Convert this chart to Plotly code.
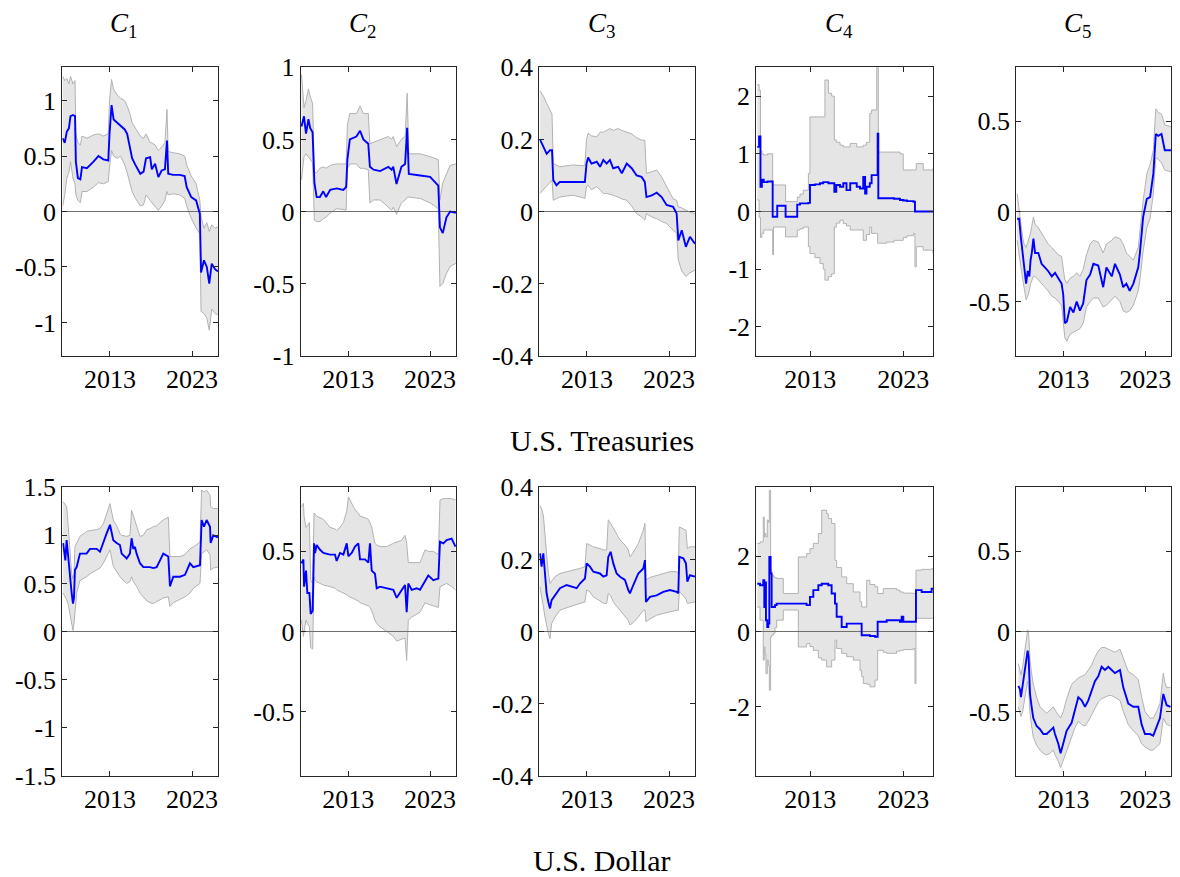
import plotly.graph_objects as go

# ---------------- data (year, median, upper band, lower band) ----------------
X_RANGE = [2007.2, 2026.2]
X_TICKS = [2013, 2023]
X_TICK_TEXT = ["2013", "2023"]

COL_TITLES = ["<i>C</i><sub>1</sub>", "<i>C</i><sub>2</sub>", "<i>C</i><sub>3</sub>",
              "<i>C</i><sub>4</sub>", "<i>C</i><sub>5</sub>"]
ROW_TITLES = ["U.S. Treasuries", "U.S. Dollar"]

C1 = [(2007.25, 0.66, 1.22, 0.05), (2007.5, 0.62, 1.18, 0.15), (2007.75, 0.72, 1.20, 0.30),
      (2008.0, 0.75, 1.15, 0.35), (2008.2, 0.86, 1.22, 0.45), (2008.5, 0.87, 1.15, 0.30),
      (2008.75, 0.86, 1.18, 0.25), (2008.85, 0.45, 0.70, 0.15), (2009.1, 0.30, 0.62, 0.10),
      (2009.4, 0.29, 0.60, 0.08), (2009.6, 0.40, 0.68, 0.18), (2010.2, 0.39, 0.66, 0.18),
      (2011.0, 0.45, 0.69, 0.22), (2011.6, 0.50, 0.70, 0.26), (2012.2, 0.47, 0.68, 0.25),
      (2012.8, 0.46, 0.70, 0.27), (2012.95, 0.70, 1.00, 0.40), (2013.2, 0.96, 1.19, 0.55),
      (2013.45, 0.83, 1.10, 0.50), (2013.9, 0.80, 1.05, 0.48), (2014.3, 0.77, 1.02, 0.50),
      (2014.8, 0.74, 1.00, 0.42), (2015.1, 0.70, 0.95, 0.35), (2015.45, 0.58, 0.88, 0.25),
      (2015.7, 0.48, 0.80, 0.18), (2016.1, 0.42, 0.75, 0.12), (2016.7, 0.34, 0.68, 0.05),
      (2017.1, 0.36, 0.66, 0.06), (2017.4, 0.48, 0.70, 0.15), (2017.9, 0.49, 0.62, 0.10),
      (2018.1, 0.38, 0.62, 0.08), (2018.5, 0.43, 0.60, 0.05), (2018.9, 0.31, 0.55, 0.01),
      (2019.3, 0.37, 0.58, 0.05), (2019.7, 0.38, 0.62, 0.10), (2019.95, 0.64, 0.92, 0.18),
      (2020.1, 0.34, 0.54, 0.15), (2020.7, 0.33, 0.53, 0.16), (2021.5, 0.33, 0.52, 0.15),
      (2022.1, 0.32, 0.50, 0.12), (2022.35, 0.22, 0.42, 0.05), (2022.9, 0.13, 0.32, -0.06),
      (2023.5, 0.10, 0.25, -0.15), (2023.95, -0.02, 0.10, -0.20), (2024.1, -0.55, -0.05, -0.90),
      (2024.45, -0.44, -0.15, -0.92), (2024.8, -0.50, -0.10, -0.96), (2025.1, -0.65, -0.18, -1.07),
      (2025.4, -0.47, -0.12, -0.88), (2025.8, -0.52, -0.15, -0.92), (2026.15, -0.54, -0.14, -0.93)]

C2 = [(2007.3, 0.59, 0.95, 0.22), (2007.6, 0.66, 0.72, 0.38), (2007.85, 0.54, 0.77, 0.40),
      (2008.15, 0.64, 0.85, 0.38), (2008.35, 0.58, 0.80, 0.36), (2008.65, 0.55, 0.75, 0.34),
      (2008.87, 0.20, 0.27, -0.06), (2009.15, 0.10, 0.27, -0.07), (2009.55, 0.10, 0.30, -0.07),
      (2009.95, 0.14, 0.31, -0.05), (2010.3, 0.10, 0.30, -0.04), (2010.8, 0.15, 0.32, -0.01),
      (2011.6, 0.16, 0.33, 0.02), (2012.4, 0.15, 0.33, 0.01), (2012.75, 0.17, 0.33, 0.01),
      (2012.9, 0.36, 0.60, 0.30), (2013.2, 0.50, 0.68, 0.33), (2014.0, 0.52, 0.68, 0.33),
      (2014.45, 0.56, 0.73, 0.30), (2014.85, 0.50, 0.68, 0.30), (2015.45, 0.47, 0.68, 0.29),
      (2015.65, 0.31, 0.47, 0.06), (2016.1, 0.29, 0.48, 0.08), (2016.9, 0.28, 0.50, 0.08),
      (2017.9, 0.31, 0.52, 0.03), (2018.3, 0.29, 0.50, 0.01), (2018.5, 0.31, 0.52, 0.03),
      (2018.9, 0.19, 0.45, -0.02), (2019.5, 0.31, 0.50, 0.06), (2019.95, 0.33, 0.52, 0.08),
      (2020.2, 0.58, 0.82, 0.10), (2020.4, 0.26, 0.40, 0.10), (2021.8, 0.25, 0.40, 0.09),
      (2023.0, 0.24, 0.38, 0.06), (2024.0, 0.18, 0.36, 0.02), (2024.2, -0.11, 0.08, -0.52),
      (2024.55, -0.15, 0.20, -0.50), (2025.0, -0.04, 0.26, -0.43), (2025.45, 0.00, 0.32, -0.38),
      (2026.15, -0.01, 0.33, -0.36)]

C3 = [(2007.28, 0.20, 0.335, 0.05), (2007.7, 0.18, 0.32, 0.06), (2008.1, 0.16, 0.30, 0.07),
      (2008.5, 0.17, 0.28, 0.08), (2008.75, 0.17, 0.27, 0.087), (2008.9, 0.087, 0.133, 0.031),
      (2009.3, 0.073, 0.128, 0.035), (2009.7, 0.082, 0.124, 0.04), (2010.5, 0.082, 0.127, 0.043),
      (2011.35, 0.082, 0.129, 0.045), (2012.55, 0.08, 0.127, 0.038), (2012.75, 0.082, 0.128, 0.036),
      (2012.95, 0.133, 0.20, 0.07), (2013.15, 0.15, 0.217, 0.073), (2013.55, 0.133, 0.21, 0.06),
      (2014.2, 0.138, 0.207, 0.069), (2014.6, 0.124, 0.22, 0.06), (2015.0, 0.143, 0.22, 0.05),
      (2015.4, 0.133, 0.225, 0.05), (2015.8, 0.143, 0.23, 0.048), (2016.2, 0.12, 0.225, 0.045),
      (2016.8, 0.124, 0.23, 0.04), (2017.25, 0.106, 0.225, 0.035), (2017.85, 0.133, 0.22, 0.031),
      (2018.45, 0.12, 0.215, 0.015), (2019.05, 0.10, 0.205, -0.006), (2019.65, 0.096, 0.198, -0.015),
      (2020.05, 0.082, 0.198, -0.024), (2020.25, 0.04, 0.106, -0.006), (2020.9, 0.045, 0.11, -0.015),
      (2021.5, 0.052, 0.115, -0.02), (2022.1, 0.04, 0.096, -0.028), (2022.7, 0.018, 0.069, -0.033),
      (2023.5, 0.013, 0.035, -0.052), (2023.93, -0.006, 0.031, -0.06), (2024.13, -0.08, 0.013, -0.135),
      (2024.55, -0.052, 0.01, -0.165), (2025.05, -0.098, 0.004, -0.18), (2025.55, -0.07, -0.002, -0.17),
      (2026.15, -0.089, -0.006, -0.163)]

C4 = [(2007.3, 1.12, 2.2, 0.2), (2007.5, 1.30, 2.1, -0.1), (2007.65, 0.43, 1.05, -0.45),
      (2007.8, 0.55, 1.0, -0.38), (2008.0, 0.51, 0.98, -0.32), (2008.4, 0.52, 1.0, -0.32),
      (2008.96, -0.09, 0.46, -0.75), (2009.05, -0.09, 0.46, -0.27), (2009.45, 0.10, 0.46, -0.27),
      (2010.35, -0.09, 0.17, -0.44), (2011.6, 0.12, 0.25, -0.32), (2011.9, 0.14, 0.30, -0.30),
      (2012.25, 0.14, 0.37, -0.27), (2012.8, 0.15, 0.66, -0.61), (2012.97, 0.46, 1.64, -0.73),
      (2013.5, 0.47, 1.64, -0.80), (2014.05, 0.49, 1.64, -0.90), (2014.4, 0.51, 1.64, -1.0),
      (2014.58, 0.51, 2.28, -1.19), (2014.95, 0.49, 2.05, -1.13), (2015.3, 0.49, 2.0, -1.08),
      (2015.59, 0.34, 1.24, -0.27), (2015.8, 0.46, 1.20, -0.2), (2016.2, 0.43, 1.15, -0.15),
      (2016.55, 0.49, 1.12, -0.21), (2016.9, 0.37, 1.12, -0.25), (2017.3, 0.49, 1.18, -0.32),
      (2018.0, 0.43, 1.12, -0.32), (2018.35, 0.40, 1.12, -0.32), (2018.7, 0.60, 1.15, -0.5),
      (2018.9, 0.31, 1.15, -0.5), (2019.05, 0.43, 1.2, -0.4), (2019.4, 0.49, 1.7, -0.27),
      (2019.6, 0.63, 1.76, -0.38), (2020.15, 0.63, 2.5, -0.38), (2020.25, 1.35, 2.5, -0.55),
      (2020.32, 0.23, 1.03, -0.55), (2021.2, 0.23, 1.03, -0.53), (2022.0, 0.22, 1.03, -0.5),
      (2022.65, 0.20, 1.0, -0.5), (2023.0, 0.19, 0.72, -0.45), (2023.4, 0.18, 0.72, -0.42),
      (2024.1, 0.17, 0.72, -0.38), (2024.26, 0.0, 0.72, -0.96), (2024.4, 0.0, 0.83, -0.61),
      (2025.15, 0.0, 0.72, -0.67), (2026.2, 0.0, 0.75, -0.73)]

C5 = [(2007.3, -0.04, 0.10, -0.16), (2007.55, -0.04, 0.01, -0.25), (2007.75, -0.14, -0.08, -0.32),
      (2008.0, -0.23, -0.15, -0.38), (2008.15, -0.31, -0.18, -0.42), (2008.4, -0.40, -0.20, -0.49),
      (2008.6, -0.33, -0.17, -0.47), (2008.8, -0.36, -0.14, -0.44), (2008.95, -0.27, -0.12, -0.40),
      (2009.1, -0.23, -0.08, -0.38), (2009.3, -0.15, -0.03, -0.36), (2009.5, -0.23, -0.07, -0.36),
      (2009.9, -0.23, -0.09, -0.38), (2010.3, -0.29, -0.12, -0.40), (2010.7, -0.31, -0.15, -0.42),
      (2011.1, -0.33, -0.18, -0.44), (2011.55, -0.36, -0.20, -0.47), (2011.95, -0.34, -0.22, -0.48),
      (2012.35, -0.37, -0.24, -0.50), (2012.75, -0.40, -0.25, -0.52), (2012.95, -0.46, -0.33, -0.61),
      (2013.15, -0.62, -0.38, -0.70), (2013.4, -0.61, -0.40, -0.72), (2013.8, -0.53, -0.37, -0.68),
      (2014.2, -0.56, -0.36, -0.67), (2014.6, -0.50, -0.34, -0.66), (2015.0, -0.55, -0.36, -0.65),
      (2015.4, -0.51, -0.32, -0.62), (2015.8, -0.38, -0.24, -0.53), (2016.25, -0.35, -0.18, -0.50),
      (2016.65, -0.29, -0.16, -0.48), (2017.25, -0.30, -0.17, -0.48), (2017.85, -0.42, -0.23, -0.53),
      (2018.25, -0.31, -0.18, -0.52), (2018.9, -0.36, -0.16, -0.49), (2019.3, -0.29, -0.14, -0.47),
      (2019.9, -0.35, -0.15, -0.50), (2020.3, -0.42, -0.18, -0.55), (2020.7, -0.40, -0.23, -0.56),
      (2021.1, -0.44, -0.25, -0.55), (2021.55, -0.40, -0.27, -0.52), (2022.15, -0.31, -0.20, -0.44),
      (2022.35, -0.23, -0.10, -0.38), (2022.75, -0.03, 0.06, -0.22), (2023.2, 0.07, 0.21, -0.09),
      (2023.6, 0.08, 0.26, -0.04), (2024.0, 0.21, 0.34, 0.10), (2024.3, 0.43, 0.57, 0.30),
      (2024.6, 0.42, 0.55, 0.29), (2025.0, 0.43, 0.54, 0.27), (2025.4, 0.34, 0.48, 0.23),
      (2026.15, 0.34, 0.47, 0.22)]

D1 = [(2007.3, 0.92, 1.35, 0.40), (2007.57, 0.74, 1.32, 0.36), (2007.73, 0.95, 1.30, 0.33),
      (2007.93, 0.74, 1.09, 0.28), (2008.13, 0.57, 0.80, 0.19), (2008.34, 0.40, 0.60, 0.08),
      (2008.5, 0.29, 0.55, 0.01), (2008.62, 0.35, 0.60, 0.08), (2008.74, 0.64, 0.88, 0.20),
      (2008.95, 0.67, 0.92, 0.40), (2009.35, 0.81, 0.99, 0.53), (2010.16, 0.81, 1.04, 0.57),
      (2010.57, 0.86, 1.05, 0.60), (2011.38, 0.86, 1.06, 0.64), (2011.79, 0.83, 1.07, 0.66),
      (2012.19, 0.93, 1.12, 0.71), (2012.6, 1.02, 1.23, 0.78), (2013.01, 1.11, 1.33, 0.85),
      (2013.41, 0.95, 1.16, 0.68), (2013.82, 0.92, 1.10, 0.62), (2014.22, 0.90, 1.02, 0.57),
      (2014.43, 0.81, 1.00, 0.55), (2015.04, 0.76, 0.99, 0.50), (2015.44, 0.81, 1.00, 0.52),
      (2015.64, 0.97, 1.26, 0.57), (2015.85, 0.86, 1.20, 0.52), (2016.05, 0.88, 1.16, 0.50),
      (2016.25, 0.81, 1.10, 0.47), (2016.66, 0.71, 0.99, 0.40), (2017.07, 0.67, 1.00, 0.36),
      (2017.47, 0.67, 1.06, 0.32), (2017.88, 0.67, 1.07, 0.30), (2018.28, 0.66, 1.09, 0.29),
      (2018.69, 0.67, 1.10, 0.31), (2019.1, 0.74, 1.13, 0.33), (2019.5, 0.81, 1.16, 0.35),
      (2020.11, 0.78, 1.19, 0.36), (2020.31, 0.47, 0.78, 0.26), (2020.72, 0.57, 0.78, 0.30),
      (2021.53, 0.57, 0.78, 0.33), (2022.14, 0.59, 0.80, 0.36), (2022.75, 0.71, 0.86, 0.40),
      (2023.16, 0.67, 0.88, 0.45), (2023.97, 0.69, 0.93, 0.50), (2024.17, 1.16, 1.47, 0.81),
      (2024.46, 1.09, 1.45, 0.83), (2024.78, 1.16, 1.47, 0.85), (2025.19, 1.09, 1.42, 0.80),
      (2025.27, 0.92, 1.30, 0.64), (2025.59, 1.00, 1.28, 0.66), (2026.15, 0.98, 1.28, 0.67)]

D2 = [(2007.3, 0.425, 0.78, 0.07), (2007.53, 0.45, 0.80, -0.03), (2007.61, 0.28, 0.72, 0.0),
      (2007.85, 0.38, 0.65, 0.07), (2008.01, 0.24, 0.66, 0.05), (2008.26, 0.24, 0.68, 0.03),
      (2008.42, 0.11, 0.32, -0.10), (2008.66, 0.13, 0.30, -0.11), (2008.83, 0.55, 0.74, 0.34),
      (2008.95, 0.49, 0.73, 0.32), (2009.15, 0.54, 0.72, 0.31), (2009.56, 0.51, 0.71, 0.30),
      (2009.97, 0.49, 0.70, 0.29), (2010.78, 0.48, 0.65, 0.28), (2011.39, 0.48, 0.64, 0.27),
      (2011.59, 0.44, 0.63, 0.26), (2012.0, 0.49, 0.65, 0.25), (2012.41, 0.48, 0.68, 0.24),
      (2012.82, 0.55, 0.75, 0.23), (2013.02, 0.47, 0.84, 0.22), (2013.43, 0.49, 0.80, 0.21),
      (2013.83, 0.53, 0.76, 0.20), (2014.24, 0.55, 0.74, 0.19), (2014.44, 0.45, 0.72, 0.18),
      (2015.05, 0.45, 0.71, 0.17), (2015.46, 0.43, 0.70, 0.16), (2015.66, 0.55, 0.68, 0.15),
      (2015.87, 0.38, 0.65, 0.13), (2016.27, 0.36, 0.55, 0.07), (2016.48, 0.27, 0.54, 0.05),
      (2016.88, 0.28, 0.53, 0.03), (2017.7, 0.27, 0.53, 0.0), (2018.51, 0.26, 0.55, -0.03),
      (2018.92, 0.21, 0.56, -0.06), (2019.53, 0.26, 0.57, -0.05), (2019.94, 0.29, 0.60, -0.04),
      (2020.14, 0.12, 0.55, -0.18), (2020.34, 0.30, 0.43, 0.07), (2020.75, 0.26, 0.43, 0.09),
      (2021.36, 0.27, 0.43, 0.11), (2021.77, 0.26, 0.43, 0.12), (2022.38, 0.32, 0.51, 0.18),
      (2022.78, 0.35, 0.50, 0.17), (2023.39, 0.32, 0.50, 0.16), (2024.01, 0.33, 0.48, 0.15),
      (2024.21, 0.56, 0.82, 0.28), (2024.62, 0.55, 0.83, 0.29), (2025.02, 0.57, 0.83, 0.30),
      (2025.63, 0.58, 0.83, 0.28), (2026.1, 0.53, 0.82, 0.26)]

D3 = [(2007.28, 0.217, 0.35, 0.124), (2007.48, 0.18, 0.34, 0.09), (2007.69, 0.217, 0.323, 0.069),
      (2007.89, 0.152, 0.26, 0.04), (2008.09, 0.106, 0.198, 0.013), (2008.3, 0.082, 0.16, -0.005),
      (2008.5, 0.064, 0.133, -0.02), (2008.7, 0.087, 0.14, 0.022), (2009.11, 0.10, 0.152, 0.04),
      (2009.72, 0.12, 0.161, 0.059), (2010.53, 0.129, 0.165, 0.066), (2011.34, 0.124, 0.17, 0.073),
      (2011.75, 0.12, 0.172, 0.075), (2012.15, 0.133, 0.175, 0.078), (2012.76, 0.147, 0.18, 0.082),
      (2012.97, 0.189, 0.244, 0.115), (2013.37, 0.18, 0.24, 0.11), (2013.78, 0.166, 0.235, 0.096),
      (2014.59, 0.161, 0.23, 0.085), (2015.0, 0.152, 0.226, 0.078), (2015.4, 0.156, 0.226, 0.078),
      (2015.6, 0.207, 0.31, 0.106), (2015.89, 0.221, 0.30, 0.10), (2016.21, 0.189, 0.286, 0.082),
      (2016.62, 0.161, 0.27, 0.07), (2017.03, 0.152, 0.254, 0.059), (2017.63, 0.143, 0.24, 0.045),
      (2018.04, 0.115, 0.226, 0.031), (2018.24, 0.106, 0.207, 0.018), (2018.65, 0.129, 0.22, 0.025),
      (2019.26, 0.161, 0.244, 0.04), (2019.87, 0.175, 0.281, 0.059), (2020.07, 0.198, 0.30, 0.06),
      (2020.19, 0.082, 0.143, 0.027), (2020.68, 0.096, 0.15, 0.035), (2021.49, 0.10, 0.156, 0.045),
      (2022.3, 0.11, 0.162, 0.05), (2023.12, 0.115, 0.166, 0.055), (2023.93, 0.11, 0.166, 0.059),
      (2024.13, 0.106, 0.16, 0.059), (2024.25, 0.207, 0.29, 0.11), (2024.74, 0.203, 0.285, 0.10),
      (2025.06, 0.189, 0.281, 0.09), (2025.23, 0.138, 0.23, 0.078), (2025.55, 0.156, 0.235, 0.08),
      (2026.16, 0.152, 0.235, 0.082)]

D4 = [(2007.3, 1.27, 2.34, 0.65), (2007.6, 1.23, 2.38, 0.30), (2007.95, 1.36, 3.04, -0.76),
      (2008.06, 0.65, 2.51, -0.41), (2008.13, 1.30, 2.6, -0.6), (2008.24, 0.30, 2.51, -1.12),
      (2008.38, 0.12, 2.96, -0.76), (2008.49, 0.21, 2.9, -0.9), (2008.6, 1.98, 3.75, -1.56),
      (2008.74, 1.54, 1.63, -0.14), (2008.85, 0.65, 1.50, -0.10), (2009.03, 0.65, 1.45, -0.05),
      (2009.21, 0.70, 1.43, 0.10), (2009.39, 0.74, 1.41, 0.30), (2010.1, 0.74, 1.01, 0.57),
      (2011.72, 0.74, 1.98, -0.41), (2012.61, 0.70, 2.07, -0.32), (2012.97, 0.92, 2.2, -0.40),
      (2013.33, 1.10, 2.34, -0.50), (2013.87, 1.23, 2.60, -0.70), (2014.23, 1.27, 3.22, -0.76),
      (2014.76, 1.27, 3.13, -0.94), (2014.94, 1.23, 3.0, -0.94), (2015.3, 1.01, 2.87, -0.76),
      (2015.66, 0.74, 1.89, -0.23), (2015.84, 0.39, 1.70, -0.45), (2016.38, 0.12, 1.45, -0.58),
      (2016.92, 0.21, 1.27, -0.67), (2017.63, 0.21, 1.05, -0.76), (2018.35, 0.21, 0.79, -1.03),
      (2018.53, -0.10, 0.65, -1.20), (2018.71, -0.10, 0.65, -1.38), (2019.07, -0.10, 1.36, -1.40),
      (2019.42, -0.12, 1.25, -1.47), (2019.96, -0.14, 1.19, -1.29), (2020.25, 0.26, 1.01, -0.50),
      (2020.86, 0.26, 1.14, -0.55), (2021.22, 0.30, 1.14, -0.58), (2022.29, 0.30, 1.10, -0.52),
      (2022.65, 0.26, 1.05, -0.50), (2022.83, 0.39, 1.05, -0.50), (2023.01, 0.26, 1.02, -0.48),
      (2024.08, 0.26, 1.01, -0.45), (2024.26, 0.26, 1.01, -1.38), (2024.37, 1.10, 1.63, 0.35),
      (2024.98, 1.05, 1.65, 0.35), (2026.05, 1.14, 1.67, 0.35), (2026.2, 1.14, 1.67, 0.35)]

D5 = [(2007.45, -0.34, -0.20, -0.47), (2007.65, -0.36, -0.25, -0.51), (2007.77, -0.41, -0.27, -0.53),
      (2007.98, -0.33, -0.22, -0.50), (2008.18, -0.26, -0.15, -0.44), (2008.38, -0.20, -0.08, -0.38),
      (2008.59, -0.12, 0.01, -0.31), (2008.71, -0.16, -0.01, -0.36), (2008.88, -0.39, -0.18, -0.51),
      (2009.08, -0.47, -0.26, -0.59), (2009.28, -0.54, -0.33, -0.66), (2009.69, -0.59, -0.41, -0.71),
      (2010.1, -0.61, -0.47, -0.74), (2010.51, -0.64, -0.49, -0.76), (2010.92, -0.64, -0.51, -0.77),
      (2011.33, -0.62, -0.49, -0.76), (2011.74, -0.60, -0.47, -0.74), (2011.94, -0.64, -0.49, -0.77),
      (2012.35, -0.70, -0.52, -0.81), (2012.63, -0.76, -0.54, -0.85), (2012.96, -0.70, -0.50, -0.80),
      (2013.37, -0.62, -0.42, -0.74), (2013.98, -0.57, -0.33, -0.66), (2014.39, -0.49, -0.31, -0.60),
      (2014.8, -0.41, -0.29, -0.56), (2015.21, -0.43, -0.28, -0.58), (2015.62, -0.47, -0.27, -0.59),
      (2016.03, -0.43, -0.24, -0.56), (2016.43, -0.37, -0.21, -0.52), (2016.84, -0.31, -0.16, -0.48),
      (2017.25, -0.28, -0.12, -0.44), (2017.66, -0.22, -0.10, -0.42), (2018.07, -0.24, -0.10, -0.41),
      (2018.48, -0.22, -0.11, -0.40), (2018.89, -0.24, -0.12, -0.40), (2019.29, -0.26, -0.13, -0.41),
      (2019.91, -0.24, -0.11, -0.43), (2020.32, -0.35, -0.17, -0.50), (2020.93, -0.45, -0.25, -0.58),
      (2021.54, -0.47, -0.27, -0.62), (2022.15, -0.47, -0.30, -0.65), (2022.56, -0.58, -0.41, -0.70),
      (2022.97, -0.64, -0.50, -0.72), (2023.59, -0.64, -0.54, -0.74), (2023.99, -0.65, -0.54, -0.74),
      (2024.4, -0.60, -0.50, -0.72), (2024.81, -0.54, -0.45, -0.70), (2025.22, -0.39, -0.26, -0.54),
      (2025.42, -0.43, -0.32, -0.56), (2025.63, -0.46, -0.35, -0.58), (2026.1, -0.47, -0.35, -0.59)]

Y_RANGES = [[-1.3, 1.3], [-1, 1], [-0.4, 0.4], [-2.5, 2.5], [-0.8, 0.8],
            [-1.5, 1.5], [-0.9, 0.9], [-0.4, 0.4], [-3.83, 3.83], [-0.9, 0.9]]
Y_TICKS = [[-1, -0.5, 0, 0.5, 1], [-1, -0.5, 0, 0.5, 1], [-0.4, -0.2, 0, 0.2, 0.4],
           [-2, -1, 0, 1, 2], [-0.5, 0, 0.5],
           [-1.5, -1, -0.5, 0, 0.5, 1, 1.5], [-0.5, 0, 0.5], [-0.4, -0.2, 0, 0.2, 0.4],
           [-2, 0, 2], [-0.5, 0, 0.5]]
PANELS = [C1, C2, C3, C4, C5, D1, D2, D3, D4, D5]
STEP_PANELS = {3, 8}

# ---------------- layout geometry (pixels of the 1180x877 page) ----------------
W, H = 1180, 877
COL_PX = [(62.3, 218.3), (300.7, 456.3), (539.3, 695.3), (756.3, 933.0), (1016.3, 1171.3)]
ROW_PX = [(67.3, 355.7), (487.3, 775.7)]
TITLE_X_PX = [123, 362, 601, 839, 1077]

FONT = "Liberation Serif"
AX_COLOR = "#262626"
BAND_LINE = "rgb(178,178,178)"
BAND_FILL = "rgb(229,229,229)"
ZERO_COLOR = "rgb(110,110,110)"


def fmt(v):
    return "%g" % v


fig = go.Figure()
layout = dict(template="none", width=W, height=H, autosize=False,
              margin=dict(l=0, r=0, t=0, b=0, pad=0, autoexpand=False),
              paper_bgcolor="white", plot_bgcolor="white", showlegend=False,
              font=dict(family=FONT, size=26, color="black"))

for i, data in enumerate(PANELS):
    r, c = divmod(i, 5)
    n = i + 1
    xa = "x" if n == 1 else "x%d" % n
    ya = "y" if n == 1 else "y%d" % n
    years = [d[0] for d in data]
    mid = [d[1] for d in data]
    up = [d[2] for d in data]
    lo = [d[3] for d in data]
    shape = "hv" if i in STEP_PANELS else "linear"

    fig.add_trace(go.Scatter(x=years, y=lo, mode="lines", xaxis=xa, yaxis=ya,
                             line=dict(color=BAND_LINE, width=1, shape=shape),
                             hoverinfo="skip"))
    fig.add_trace(go.Scatter(x=years, y=up, mode="lines", xaxis=xa, yaxis=ya,
                             line=dict(color=BAND_LINE, width=1, shape=shape),
                             fill="tonexty", fillcolor=BAND_FILL, hoverinfo="skip"))
    fig.add_trace(go.Scatter(x=X_RANGE, y=[0, 0], mode="lines", xaxis=xa, yaxis=ya,
                             line=dict(color=ZERO_COLOR, width=1), hoverinfo="skip"))
    fig.add_trace(go.Scatter(x=years, y=mid, mode="lines", xaxis=xa, yaxis=ya,
                             line=dict(color="rgb(0,0,255)", width=1.9, shape=shape)))

    x0, x1 = COL_PX[c]
    y0, y1 = ROW_PX[r]
    common = dict(showline=True, linecolor=AX_COLOR, linewidth=1, mirror="ticks",
                  ticks="inside", ticklen=5, tickwidth=1, tickcolor=AX_COLOR,
                  showgrid=False, zeroline=False, fixedrange=True, automargin=False,
                  tickfont=dict(family=FONT, size=26, color="black"))
    layout["xaxis" if n == 1 else "xaxis%d" % n] = dict(
        domain=[x0 / W, x1 / W], anchor=ya, range=X_RANGE,
        tickmode="array", tickvals=X_TICKS, ticktext=X_TICK_TEXT, **common)
    layout["yaxis" if n == 1 else "yaxis%d" % n] = dict(
        domain=[1 - y1 / H, 1 - y0 / H], anchor=xa, range=Y_RANGES[i],
        tickmode="array", tickvals=Y_TICKS[i], ticktext=[fmt(v) for v in Y_TICKS[i]],
        **common)

annotations = []
for c, t in enumerate(COL_TITLES):
    annotations.append(dict(text=t, x=TITLE_X_PX[c] / W, y=1 - 25 / H, xref="paper", yref="paper",
                            xanchor="center", yanchor="middle", showarrow=False,
                            font=dict(family=FONT, size=27, color="black")))
for r, (t, py) in enumerate(zip(ROW_TITLES, [440, 860])):
    annotations.append(dict(text=t, x=602 / W, y=1 - py / H, xref="paper", yref="paper",
                            xanchor="center", yanchor="middle", showarrow=False,
                            font=dict(family=FONT, size=30, color="black")))
layout["annotations"] = annotations

fig.update_layout(**layout)
fig.write_html("out.html")
